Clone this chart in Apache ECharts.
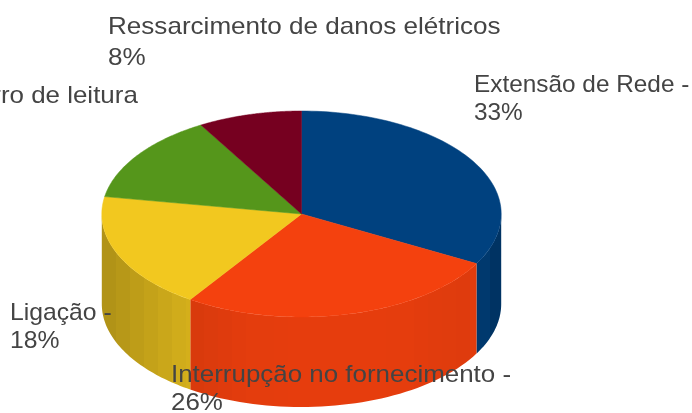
<!DOCTYPE html>
<html>
<head>
<meta charset="utf-8">
<style>
  html, body { margin: 0; padding: 0; background: #fff; }
  #chart { width: 692px; height: 413px; }
</style>
<script src="https://cdn.jsdelivr.net/npm/echarts@6/dist/echarts.min.js"></script>
</head>
<body>
<div id="chart"></div>
<script>
const categories = ['Extensão de Rede', 'Interrupção no fornecimento', 'Ligação', 'Erro de leitura', 'Ressarcimento de danos elétricos']
const values = [33, 26.4, 18.3, 13.9, 8.4]
const labelTexts = ['Extensão de Rede -\n33%', 'Interrupção no fornecimento -\n26%', 'Ligação -\n18%', 'Erro de leitura', 'Ressarcimento de danos elétricos\n8%']

const topColors = ['#00417f', '#f4410e', '#f2c81f', '#55961b', '#760020']
// x, y, horizontal stretch, line height
const labelLayout = [
  [474, 71, 1.015, 28],
  [171, 361, 1.08, 28],
  [10, 299, 1.03, 28],
  [-25, 82, 1.08, 28],
  [108, 12, 1.086, 31]
]
// wall brightness across the cylinder, [position from -1 left to 1 right, factor]
const wallShade = [[-1, 0.72], [-0.56, 0.88], [-0.3, 0.93], [0, 0.945], [0.5, 0.94], [0.8, 0.91], [0.87, 0.93], [1, 0.74]]

const CX = 301.5
const CY = 214
const RX = 199.7
const RY = 103
const DEPTH = 90
const BAND = 14
const FRONT_START = Math.PI / 2
const FRONT_END = Math.PI * 1.5

const total = values.reduce((a, b) => a + b, 0)

function sliceRange (idx) {
  let before = 0
  for (let i = 0; i < idx; i++) before += values[i]
  return [before / total * Math.PI * 2, (before + values[idx]) / total * Math.PI * 2]
}

function rimPoint (a, dy) {
  return [CX + RX * Math.sin(a), CY - RY * Math.cos(a) + dy]
}

function shade (hex, f) {
  const n = parseInt(hex.slice(1), 16)
  const c = [n >> 16, (n >> 8) & 255, n & 255].map(v => Math.round(v * f))
  return 'rgb(' + c.join(',') + ')'
}

function wallFactor (x) {
  const u = (x - CX) / RX
  for (let i = 1; i < wallShade.length; i++) {
    if (u <= wallShade[i][0]) {
      const p = wallShade[i - 1]
      const q = wallShade[i]
      return p[1] + (q[1] - p[1]) * (u - p[0]) / (q[0] - p[0])
    }
  }
  return wallShade[wallShade.length - 1][1]
}

function renderWall (params, api) {
  const range = sliceRange(params.dataIndex)
  const from = Math.max(range[0], FRONT_START)
  const to = Math.min(range[1], FRONT_END)
  if (from >= to) return null
  const steps = 48
  const top = []
  const bottom = []
  for (let i = 0; i <= steps; i++) {
    const a = from + (to - from) * i / steps
    top.push(rimPoint(a, 0))
    bottom.unshift(rimPoint(a, DEPTH))
  }
  // flat vertical bands, as the faceted wall of the original has
  const xMin = rimPoint(to, 0)[0]
  const xMax = rimPoint(from, 0)[0]
  const width = xMax - xMin
  const color = topColors[params.dataIndex]
  const stops = []
  for (let x = xMin; x < xMax; x += BAND) {
    const end = Math.min(x + BAND, xMax)
    const fill = shade(color, wallFactor((x + end) / 2))
    stops.push({ offset: (x - xMin) / width, color: fill })
    stops.push({ offset: (end - xMin) / width, color: fill })
  }
  return {
    type: 'polygon',
    shape: { points: top.concat(bottom) },
    style: { fill: { type: 'linear', x: 0, y: 0, x2: 1, y2: 0, colorStops: stops } }
  }
}

function renderTop (params, api) {
  const range = sliceRange(params.dataIndex)
  const steps = 80
  const pts = [[CX, CY]]
  for (let i = 0; i <= steps; i++) {
    pts.push(rimPoint(range[0] + (range[1] - range[0]) * i / steps, 0))
  }
  return {
    type: 'polygon',
    shape: { points: pts },
    style: { fill: topColors[params.dataIndex], stroke: topColors[params.dataIndex], lineWidth: 0.5 }
  }
}

function renderLabel (params, api) {
  const p = labelLayout[params.dataIndex]
  return {
    type: 'text',
    x: p[0],
    y: p[1],
    scaleX: p[2],
    style: {
      text: labelTexts[params.dataIndex],
      fill: '#444444',
      font: '24px "Liberation Sans"',
      lineHeight: p[3],
      textAlign: 'left',
      textVerticalAlign: 'top'
    }
  }
}

const chart = echarts.init(document.getElementById('chart'), null, { renderer: 'canvas' })
const seriesData = categories.map((name, i) => ({ name: name, value: values[i] }))

chart.setOption({
  animation: false,
  backgroundColor: '#ffffff',
  series: [
    { type: 'custom', coordinateSystem: 'none', renderItem: renderWall, data: seriesData, z: 1, silent: true },
    { type: 'custom', coordinateSystem: 'none', renderItem: renderTop, data: seriesData, z: 2, silent: true },
    { type: 'custom', coordinateSystem: 'none', renderItem: renderLabel, data: seriesData, z: 3, silent: true }
  ]
})
</script>
</body>
</html>
